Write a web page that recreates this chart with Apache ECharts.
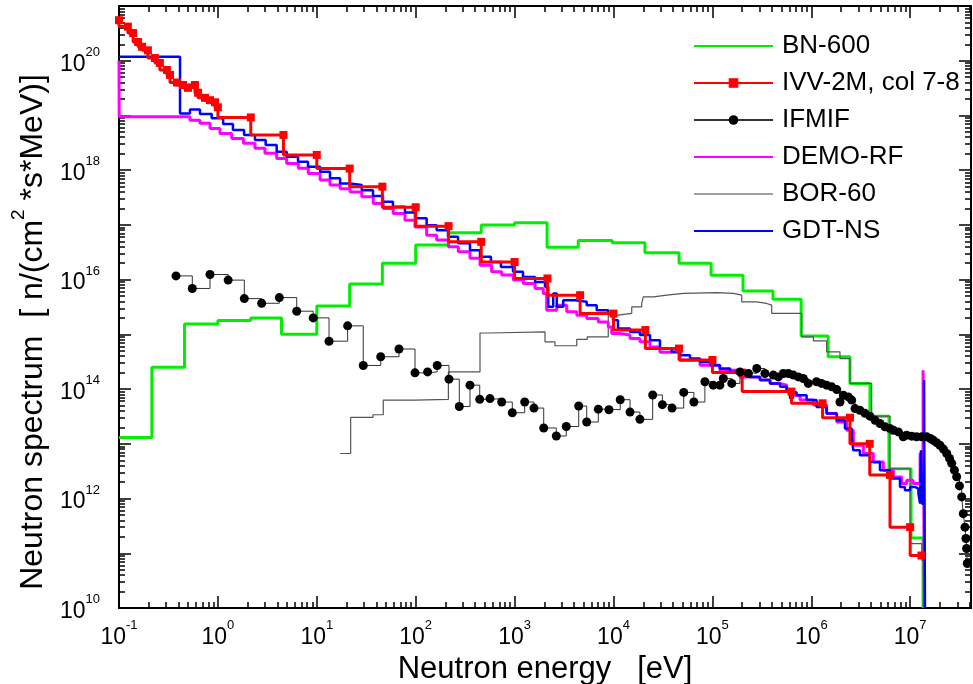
<!DOCTYPE html>
<html>
<head>
<meta charset="utf-8">
<script src="https://cdn.jsdelivr.net/npm/echarts@6/dist/echarts.min.js"></script>
<style>
html,body{margin:0;padding:0;background:#fff;}
#chart{width:973px;height:684px;}
</style>
</head>
<body>
<div id="chart"></div>
<script>
// ---------- data: [energy eV, flux n/(cm^2 s MeV)] ----------
const bn600 = [
  [0.1,1.3e13],[0.215,2.5e14],[0.46,1.55e15],[1.0,1.8e15],[2.15,2.0e15],[4.4,1.0e15],[10,3.3e15],
  [21.5,8.3e15],[46,2.0e16],[100,4.3e16],[215,7.2e16],[460,1.0e17],[1000,1.1e17],[2130,3.9e16],
  [4400,5.2e16],[9.7e3,4.7e16],[2.08e4,3.1e16],[4.6e4,2.0e16],[9.7e4,1.2e16],[2.04e5,6.2e15],
  [4.1e5,4.4e15],[7.9e5,9.3e14],[1.48e6,3.9e14],[2.46e6,1.26e14],[3.92e6,3.2e13],[6.1e6,3.5e12],
  [1.02e7,1.9e11],[1.35e7,1.9e11],[1.35e7,1e10]
];
const ivv2m = [
  [0.1,5.5e20],[0.123,4.2e20],[0.139,3.2e20],[0.156,2.2e20],[0.171,1.8e20],[0.196,1.55e20],[0.231,1.12e20],
  [0.259,9.1e19],[0.305,6.8e19],[0.328,5.5e19],[0.385,4.0e19],[0.444,3.6e19],[0.499,3.2e19],[0.586,3.6e19],
  [0.63,2.6e19],[0.741,2.1e19],[0.832,1.9e19],[0.935,1.74e19],[1.0,1.41e19],
  [2.15,9.2e18],[4.6,4.4e18],[10,1.9e18],[21.5,1.07e18],[46,5.0e17],[100,2.1e17],[215,9.5e16],[460,4.9e16],
  [1000,2.1e16],[2150,1.05e16],[4600,5.2e15],[1.0e4,2.4e15],[2.1e4,1.2e15],[4.6e4,5.5e14],[1.0e5,3.4e14],
  [2.0e5,2.0e14],[6.3e5,9.0e13],[1.3e6,5.5e13],[2.46e6,3.0e13],[3.9e6,1.0e13],[6.25e6,2.7e12],[1.0e7,3.0e11],
  [1.3e7,9.1e10]
];
const ifmif = [
  [0.377,1.17e16],[0.551,6.9e15],[0.832,1.24e16],[1.27,9.8e15],[1.85,4.5e15],[2.77,3.7e15],[4.18,4.7e15],
  [6.27,2.65e15],[9.2,2.0e15],[13.3,7.5e14],[20.5,1.43e15],[29.5,2.7e14],[44.3,3.9e14],[67.8,5.4e14],
  [98.4,1.98e14],[132,2.06e14],[165,2.7e14],[217,1.52e14],[276,4.8e13],[354,1.18e14],[444,6.5e13],
  [564,6.7e13],[741,5.8e13],[948,3.7e13],[1265,5.8e13],[1570,4.5e13],[1970,1.95e13],[2640,1.39e13],
  [3330,2.07e13],[4450,4.9e13],[5360,2.5e13],[7020,4.3e13],[9000,4.2e13],[1.17e4,6.4e13],[1.47e4,3.8e13],
  [1.85e4,2.8e13],[2.49e4,7.8e13],[3.12e4,5.2e13],[3.91e4,4.5e13],[5.13e4,8.7e13],[6.5e4,5.8e13],
  [8.4e4,1.36e14],[1.02e5,1.18e14],[1.19e5,1.18e14],[1.29e5,1.56e14],[1.57e5,1.27e14],[1.90e5,2.06e14],
  [2.31e5,1.93e14],[2.81e5,2.38e14],[3.40e5,1.93e14],[4.13e5,1.80e14],[4.64e5,1.67e14],[5.21e5,1.93e14],
  [5.86e5,1.93e14],[6.58e5,1.80e14],[7.40e5,1.67e14],[8.30e5,1.56e14],[9.33e5,1.27e14],[1.13e6,1.36e14],
  [1.27e6,1.27e14],[1.43e6,1.18e14],[1.61e6,1.10e14],[1.81e6,9.8e13],[1.95e6,5.8e13],[2.11e6,7.7e13],
  [2.37e6,7.2e13],[2.56e6,6.3e13],[2.77e6,4.4e13],[3.10e6,4.1e13],[3.49e6,3.6e13],[3.92e6,3.2e13],
  [4.41e6,2.7e13],[4.95e6,2.35e13],[5.56e6,2.04e13],[6.25e6,1.9e13],[6.75e6,1.77e13],[7.59e6,1.65e13],
  [8.5e6,1.34e13],[9.2e6,1.44e13],[1.035e7,1.38e13],[1.16e7,1.34e13],[1.31e7,1.34e13],[1.47e7,1.34e13],
  [1.6e7,1.25e13],[1.71e7,1.16e13],[1.85e7,1.05e13],[2.0e7,9.4e12],[2.17e7,8.0e12],[2.34e7,6.65e12],
  [2.5e7,5.4e12],[2.63e7,4.4e12],[2.8e7,3.3e12],[2.95e7,2.5e12],[3.15e7,1.7e12],[3.32e7,1.07e12],
  [3.44e7,5.3e11],[3.58e7,3.0e11],[3.66e7,1.86e11],[3.72e7,1.22e11],[3.78e7,6.5e10]
];
const demoRF = [
  [0.1,1.0e20],[0.1005,9.5e18],[0.522,8.2e18],[0.659,7.2e18],[0.832,5.8e18],[1.05,4.7e18],[1.38,3.8e18],
  [1.81,3.09e18],[2.37,2.51e18],[2.99,2.03e18],[3.93,1.64e18],[4.96,1.33e18],[6.5,1.08e18],[8.2,8.7e17],
  [10.8,6.6e17],[13.6,5.35e17],[17.2,4.6e17],[21.7,4.0e17],[28.5,3.27e17],[37.2,2.47e17],[47.0,2.0e17],
  [59.3,1.62e17],[77.9,1.22e17],[98.4,9.2e16],[129,6.5e16],[163,5.3e16],[214,4.0e16],[270,3.22e16],
  [354,2.47e16],[447,1.84e16],[586,1.39e16],[741,1.21e16],[970,9.8e15],[1225,8.5e15],[1610,6.9e15],
  [1950,5.6e15],[2110,2.77e15],[2670,3.42e15],[3370,2.58e15],[4250,2.24e15],[5360,1.95e15],[7020,1.69e15],
  [8850,1.37e15],[9600,1.04e15],[1.16e4,9.7e14],[1.47e4,8.4e14],[1.85e4,7.3e14],[2.34e4,5.9e14],
  [2.95e4,4.7e14],[4.71e4,3.37e14],[7.5e4,2.73e14],[1.19e5,2.22e14],[1.90e5,1.67e14],[3.03e5,1.46e14],
  [3.83e5,1.27e14],[4.83e5,1.18e14],[5.64e5,9.5e13],[6.1e5,7.7e13],[7.7e5,6.3e13],[1.05e6,5.1e13],
  [1.43e6,3.58e13],[1.81e6,2.51e13],[2.28e6,1.77e13],[2.66e6,9.4e12],[3.36e6,6.65e12],[4.24e6,4.67e12],
  [5.35e6,3.29e12],[6.75e6,2.48e12],[8.2e6,1.88e12],[9.2e6,2.16e12],[1.07e7,1.88e12],[1.2e7,1.88e12],
  [1.26e7,6.65e12],[1.35e7,2.2e14],[1.39e7,2.2e14],[1.39e7,1e10]
];
const bor60 = [
  [17.2,6.65e12],[22.0,3.03e13],[37.0,3.4e13],[47.0,6.3e13],[98.4,6.5e13],[214,2.06e14],[447,1.06e15],
  [564,1.11e15],[2030,7.3e14],[2560,6.2e14],[4250,8.1e14],[5430,9.0e14],[8850,2.24e15],[1.12e4,2.41e15],
  [1.53e4,3.18e15],[1.93e4,3.67e15],[2.0e4,4.85e15],[2.53e4,5.2e15],[3.45e4,5.6e15],[5.08e4,5.8e15],
  [1.11e5,5.6e15],[1.63e5,5.2e15],[1.98e5,3.93e15],[2.81e5,3.67e15],[3.54e5,3.42e15],[3.98e5,2.41e15],
  [8.0e5,9.0e14],[1.05e6,7.6e14],[1.43e6,4.8e14],[1.95e6,3.6e14],[2.46e6,1.27e14],[4.08e6,3.2e13],
  [6.25e6,3.5e12],[9.96e6,1.5e11],[1.31e7,7.4e10],[1.36e7,7.4e10]
];
const gdtNS = [
  [0.1,1.18e20],[0.414,1.09e19],[0.522,1.29e19],[0.659,1.06e19],[0.865,8.9e18],[1.13,7.0e18],[1.42,5.4e18],
  [1.84,4.4e18],[2.37,3.55e18],[3.04,2.88e18],[3.93,2.17e18],[4.96,1.76e18],[6.46,1.43e18],[8.15,1.15e18],
  [10.8,9.4e17],[13.6,7.1e17],[17.2,5.7e17],[21.7,5.35e17],[28.5,4.3e17],[37.0,3.37e17],[46.7,2.64e17],
  [58.9,2.14e17],[77.9,1.69e17],[98.4,1.32e17],[129,9.9e16],[163,8.0e16],[212,6.1e16],[268,4.6e16],
  [354,3.46e16],[447,2.61e16],[577,2.11e16],[728,1.71e16],[964,1.39e16],[1216,1.12e16],[1610,9.1e15],
  [2030,7.4e15],[2190,3.2e15],[2460,5.6e15],[2670,3.2e15],[3100,4.2e15],[4070,3.93e15],[5360,3.42e15],
  [6760,2.77e15],[8850,2.41e15],[9900,1.82e15],[1.11e4,1.28e15],[1.47e4,1.11e15],[1.85e4,9.7e14],
  [2.34e4,7.8e14],[2.95e4,5.5e14],[3.87e4,4.8e14],[4.71e4,4.17e14],[5.94e4,3.62e14],[7.5e4,3.14e14],
  [9.5e4,2.73e14],[1.19e5,2.38e14],[1.51e5,2.06e14],[1.90e5,1.85e14],[2.40e5,1.67e14],[3.03e5,1.46e14],
  [3.83e5,1.27e14],[4.83e5,1.10e14],[5.64e5,8.9e13],[6.1e5,6.8e13],[6.5e5,8.8e13],[7.1e5,7.7e13],
  [8.97e5,6.3e13],[1.13e6,4.7e13],[1.43e6,3.58e13],[1.81e6,2.7e13],[2.19e6,1.9e13],[2.56e6,1.34e13],
  [2.66e6,7.6e12],[3.10e6,6.2e12],[3.92e6,4.67e12],[4.95e6,3.29e12],[6.25e6,2.32e12],[7.89e6,1.63e12],
  [8.85e6,1.42e12],[9.96e6,1.63e12],[1.12e7,1.52e12],[1.21e7,1.23e12],[1.26e7,8.1e11],[1.285e7,7.6e12],
  [1.315e7,8e11],[1.38e7,1.46e14],[1.41e7,1.46e14],[1.41e7,1e10]
];

// ---------- axes ----------
const xMajorTicks = [0.1, 1, 10, 100, 1e3, 1e4, 1e5, 1e6, 1e7];
const yMajorTicks = [1e10,1e11,1e12,1e13,1e14,1e15,1e16,1e17,1e18,1e19,1e20,1e21];
const yLabelTicks = [1e10,1e12,1e14,1e16,1e18,1e20];
const X_MIN = 0.1, X_MAX = 4.12e7, Y_MIN = 1e10, Y_MAX = 1e21;

function minorTicks(k0, k1, maxV) {
  const out = [];
  for (let k = k0; k <= k1; k++) {
    for (let m = 2; m <= 9; m++) {
      const v = m * Math.pow(10, k);
      if (v <= maxV) out.push(v);
    }
  }
  return out;
}
const xMinorTicks = minorTicks(-1, 7, X_MAX);
const yMinorTicks = minorTicks(10, 20, Y_MAX);

const FF = '"Liberation Sans", Arial, Helvetica, sans-serif';
const rich = {
  b: {fontSize: 23, lineHeight: 30, verticalAlign: 'bottom', fontFamily: FF, color: '#000'},
  s: {fontSize: 13, lineHeight: 14, verticalAlign: 'top', fontFamily: FF, color: '#000'}
};
function expLabel(v) {
  const e = Math.round(Math.log10(v));
  return '{b|10}{s|' + e + '}';
}

const tickLine = {color: '#000', width: 1.5};
const axisLineStyle = {show: true, onZero: false, lineStyle: {color: '#000', width: 2}};

function xAx(pos, ticks, len, showLine, extra) {
  return Object.assign({
    type: 'log', logBase: 10, min: X_MIN, max: X_MAX, position: pos, gridIndex: 0,
    axisLine: showLine ? axisLineStyle : {show: false},
    axisTick: {show: true, inside: true, length: len, customValues: ticks, lineStyle: tickLine},
    axisLabel: {show: false}, splitLine: {show: false}, minorTick: {show: false}, silent: true
  }, extra || {});
}
function yAx(pos, ticks, len, showLine, extra) {
  return Object.assign({
    type: 'log', logBase: 10, min: Y_MIN, max: Y_MAX, position: pos, gridIndex: 0,
    axisLine: showLine ? axisLineStyle : {show: false},
    axisTick: {show: true, inside: true, length: len, customValues: ticks, lineStyle: tickLine},
    axisLabel: {show: false}, splitLine: {show: false}, minorTick: {show: false}, silent: true
  }, extra || {});
}

const chart = echarts.init(document.getElementById('chart'), null, {renderer: 'canvas'});
chart.setOption({
  animation: false,
  backgroundColor: '#fff',
  grid: {left: 119, right: 2, top: 6, bottom: 76, containLabel: false, outerBoundsMode: 'none'},
  legend: {
    data: [
      {name: 'BN-600', itemStyle: {opacity: 0}},
      {name: 'IVV-2M, col 7-8'},
      {name: 'IFMIF', lineStyle: {color: '#333333'}},
      {name: 'DEMO-RF', itemStyle: {opacity: 0}},
      {name: 'BOR-60', itemStyle: {opacity: 0}, lineStyle: {color: '#808080', width: 1.5}},
      {name: 'GDT-NS', itemStyle: {opacity: 0}}
    ],
    orient: 'vertical', left: 688, top: 28, itemWidth: 79, itemHeight: 12, itemGap: 11,
    selectedMode: false,
    textStyle: {fontSize: 26, fontFamily: FF, color: '#000', padding: [0, 0, 0, 4]}
  },
  xAxis: [
    xAx('bottom', xMajorTicks, 12, true, {
      axisLabel: {show: true, customValues: xMajorTicks, margin: 11, formatter: expLabel, rich: rich},
      name: 'Neutron energy   [eV]', nameLocation: 'middle', nameGap: 38,
      nameTextStyle: {fontSize: 31, fontFamily: FF, color: '#000'}
    }),
    xAx('bottom', xMinorTicks, 6, false),
    xAx('top', xMajorTicks, 12, true),
    xAx('top', xMinorTicks, 6, false)
  ],
  yAxis: [
    yAx('left', yMajorTicks, 12, true, {
      axisLabel: {show: true, customValues: yLabelTicks, margin: 19, formatter: expLabel, rich: rich},
      name: '{a|Neutron spectrum  [ n/(cm}{s|2}{a| *s*MeV)]}', nameLocation: 'middle', nameGap: 64,
      nameTextStyle: {
        padding: [0, 50, 0, 0],
        rich: {
          a: {fontSize: 32, lineHeight: 40, verticalAlign: 'bottom', fontFamily: FF, color: '#000'},
          s: {fontSize: 19, lineHeight: 20, verticalAlign: 'top', fontFamily: FF, color: '#000'}
        }
      }
    }),
    yAx('left', yMinorTicks, 6, false),
    yAx('right', yMajorTicks, 12, true),
    yAx('right', yMinorTicks, 6, false)
  ],
  series: [
    {name: 'BN-600', type: 'line', step: 'end', data: bn600, symbol: 'none', xAxisIndex: 0, yAxisIndex: 0,
     lineStyle: {color: '#00ee00', width: 3}, itemStyle: {color: '#00ee00'}, z: 2},
    {name: 'BOR-60', type: 'line', step: 'end', data: bor60, symbol: 'none', xAxisIndex: 0, yAxisIndex: 0,
     lineStyle: {color: '#555555', width: 1.2}, itemStyle: {color: '#808080'}, z: 3},
    {name: 'DEMO-RF', type: 'line', step: 'end', data: demoRF, symbol: 'none', xAxisIndex: 0, yAxisIndex: 0,
     lineStyle: {color: '#ff00ff', width: 3}, itemStyle: {color: '#ff00ff'}, z: 4},
    {name: 'GDT-NS', type: 'line', step: 'end', data: gdtNS, symbol: 'none', xAxisIndex: 0, yAxisIndex: 0,
     lineStyle: {color: '#0000ff', width: 2.5}, itemStyle: {color: '#0000ff'}, z: 5},
    {name: 'IVV-2M, col 7-8', type: 'line', step: 'start', data: ivv2m, symbol: 'rect', symbolSize: 8,
     showSymbol: true, showAllSymbol: true, xAxisIndex: 0, yAxisIndex: 0,
     lineStyle: {color: '#ff0000', width: 3}, itemStyle: {color: '#ff0000'}, z: 6},
    {name: 'IFMIF', type: 'line', step: 'end', data: ifmif, symbol: 'circle', symbolSize: 9,
     showSymbol: true, showAllSymbol: true, xAxisIndex: 0, yAxisIndex: 0,
     lineStyle: {color: '#333333', width: 1}, itemStyle: {color: '#000000'}, z: 7}
  ]
});
</script>
</body>
</html>
